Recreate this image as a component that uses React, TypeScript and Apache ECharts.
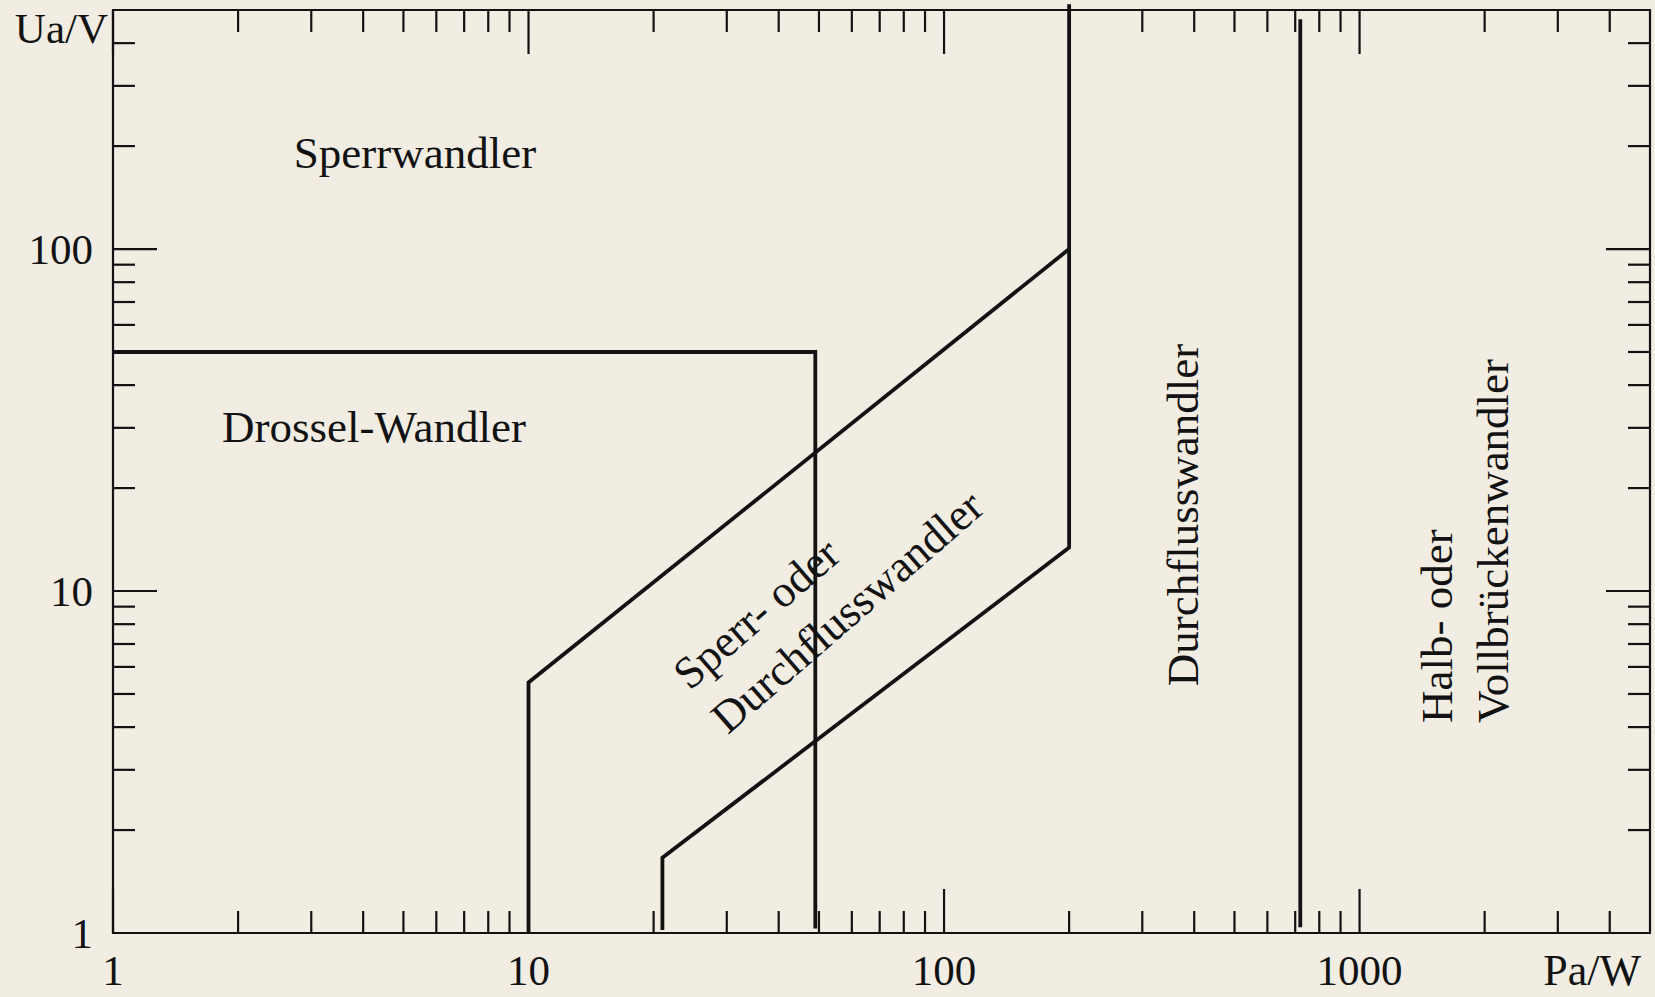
import React, { useEffect, useRef } from 'react';
import * as echarts from 'echarts';

// Axis ranges
const X_MIN = 1;
const X_MAX = 5000;
const Y_MIN = 1;
const Y_MAX = 500;

// Tick values (log axes, decades 1..10..100..1000)
const xTickValues = [1, 2, 3, 4, 5, 6, 7, 8, 9, 10, 20, 30, 40, 50, 60, 70, 80, 90, 100, 200, 300, 400, 500, 600, 700, 800, 900, 1000, 2000, 3000, 4000];
const yTickValues = [1, 2, 3, 4, 5, 6, 7, 8, 9, 10, 20, 30, 40, 50, 60, 70, 80, 90, 100, 200, 300, 400];
const xTickLabels = ['1', '10', '100', '1000'];
const yTickLabels = ['1', '10', '100'];

// Region boundaries [Pa/W, Ua/V]
const drosselBoundary = [[1, 50], [49, 50], [49, 1.03]];
const sperrUpperBoundary = [[10, 1], [10, 5.4], [200, 100], [200, 520]];
const durchflussLowerBoundary = [[21, 1.02], [21, 1.66], [200, 13.4], [200, 100]];
const bruckenBoundary = [[720, 1.04], [720, 470]];

// Region names
const regionNames = {
  sperr: 'Sperrwandler',
  drossel: 'Drossel-Wandler',
  mixed1: 'Sperr- oder',
  mixed2: 'Durchflusswandler',
  durchfluss: 'Durchflusswandler',
  bridge1: 'Halb- oder',
  bridge2: 'Vollbrückenwandler',
};
const xAxisName = 'Pa/W';
const yAxisName = 'Ua/V';

const INK = '#121212';
const BG = '#f1ede3';
const FONT = '"Liberation Serif", "Times New Roman", serif';

const isDecade = (v: number) => Math.abs(Math.log10(v) - Math.round(Math.log10(v))) < 1e-9;

export default function App() {
  const ref = useRef<HTMLDivElement>(null);

  useEffect(() => {
    if (!ref.current) return;
    const chart = echarts.init(ref.current, undefined, { renderer: 'svg' });

    const lineSeries = (data: number[][]) => ({
      type: 'line',
      data,
      xAxisIndex: 0,
      yAxisIndex: 0,
      showSymbol: false,
      symbol: 'none',
      silent: true,
      clip: false,
      lineStyle: { color: INK, width: 3.8, join: 'miter' },
      z: 3,
    });

    const labelStyle = {
      color: INK,
      fontFamily: FONT,
      fontSize: 43,
    };

    const option: any = {
      animation: false,
      backgroundColor: BG,
      grid: {
        left: 113,
        right: 5,
        top: 10,
        bottom: 64,
        containLabel: false,
        outerBoundsMode: 'none',
      },
      xAxis: [
        {
          type: 'log',
          logBase: 10,
          min: X_MIN,
          max: X_MAX,
          position: 'bottom',
          axisLine: { show: true, lineStyle: { color: INK, width: 2.2 } },
          axisTick: { show: false },
          splitLine: { show: false },
          minorTick: { show: false },
          axisLabel: {
            ...labelStyle,
            margin: 16,
            showMinLabel: true,
            showMaxLabel: true,
            formatter: (v: number) => (xTickLabels.includes(String(Math.round(v))) && isDecade(v) ? String(Math.round(v)) : ''),
          },
        },
        {
          type: 'log',
          logBase: 10,
          min: X_MIN,
          max: X_MAX,
          position: 'top',
          axisLine: { show: true, lineStyle: { color: INK, width: 2.2 } },
          axisTick: { show: false },
          axisLabel: { show: false },
          splitLine: { show: false },
        },
      ],
      yAxis: [
        {
          type: 'log',
          logBase: 10,
          min: Y_MIN,
          max: Y_MAX,
          position: 'left',
          axisLine: { show: true, lineStyle: { color: INK, width: 2.2 } },
          axisTick: { show: false },
          splitLine: { show: false },
          axisLabel: {
            ...labelStyle,
            margin: 20,
            showMinLabel: true,
            showMaxLabel: true,
            formatter: (v: number) => (yTickLabels.includes(String(Math.round(v))) && isDecade(v) ? String(Math.round(v)) : ''),
          },
        },
        {
          type: 'log',
          logBase: 10,
          min: Y_MIN,
          max: Y_MAX,
          position: 'right',
          axisLine: { show: true, lineStyle: { color: INK, width: 2.2 } },
          axisTick: { show: false },
          axisLabel: { show: false },
          splitLine: { show: false },
        },
      ],
      series: [
        lineSeries(drosselBoundary),
        lineSeries(sperrUpperBoundary),
        lineSeries(durchflussLowerBoundary),
        lineSeries(bruckenBoundary),
        {
          type: 'custom',
          xAxisIndex: 0,
          yAxisIndex: 0,
          silent: true,
          data: xTickValues.map((v) => [v, Y_MIN]),
          renderItem: (params: any, api: any) => {
            const v = api.value(0);
            const len = isDecade(v) ? 44 : 22;
            const pb = api.coord([v, Y_MIN]);
            const pt = api.coord([v, Y_MAX]);
            const style = { stroke: INK, lineWidth: 2.2 };
            return {
              type: 'group',
              children: [
                { type: 'line', shape: { x1: pb[0], y1: pb[1], x2: pb[0], y2: pb[1] - len }, style },
                { type: 'line', shape: { x1: pt[0], y1: pt[1], x2: pt[0], y2: pt[1] + len }, style },
              ],
            };
          },
          z: 2,
        },
        {
          type: 'custom',
          xAxisIndex: 0,
          yAxisIndex: 0,
          silent: true,
          data: yTickValues.map((v) => [X_MIN, v]),
          renderItem: (params: any, api: any) => {
            const v = api.value(1);
            const len = isDecade(v) ? 44 : 22;
            const pl = api.coord([X_MIN, v]);
            const pr = api.coord([X_MAX, v]);
            const style = { stroke: INK, lineWidth: 2.2 };
            return {
              type: 'group',
              children: [
                { type: 'line', shape: { x1: pl[0], y1: pl[1], x2: pl[0] + len, y2: pl[1] }, style },
                { type: 'line', shape: { x1: pr[0], y1: pr[1], x2: pr[0] - len, y2: pr[1] }, style },
              ],
            };
          },
          z: 2,
        },
      ],
      graphic: [
        {
          type: 'text', x: 108, y: 28,
          style: { text: yAxisName, fill: INK, font: `43px ${FONT}`, align: 'right', verticalAlign: 'middle' },
        },
        {
          type: 'text', x: 1641, y: 970,
          style: { text: xAxisName, fill: INK, font: `44px ${FONT}`, align: 'right', verticalAlign: 'middle' },
        },
        {
          type: 'text', x: 415, y: 153,
          style: { text: regionNames.sperr, fill: INK, font: `45px ${FONT}`, align: 'center', verticalAlign: 'middle' },
        },
        {
          type: 'text', x: 374, y: 427,
          style: { text: regionNames.drossel, fill: INK, font: `45px ${FONT}`, align: 'center', verticalAlign: 'middle' },
        },
        {
          type: 'text', x: 680, y: 680, rotation: (41 * Math.PI) / 180,
          style: { text: regionNames.mixed1, fill: INK, font: `45px ${FONT}`, align: 'left', verticalAlign: 'middle' },
        },
        {
          type: 'text', x: 718, y: 724, rotation: (41 * Math.PI) / 180,
          style: { text: regionNames.mixed2, fill: INK, font: `45px ${FONT}`, align: 'left', verticalAlign: 'middle' },
        },
        {
          type: 'text', x: 1183, y: 515, rotation: Math.PI / 2,
          style: { text: regionNames.durchfluss, fill: INK, font: `45px ${FONT}`, align: 'center', verticalAlign: 'middle' },
        },
        {
          type: 'text', x: 1437, y: 723, rotation: Math.PI / 2,
          style: { text: regionNames.bridge1, fill: INK, font: `45px ${FONT}`, align: 'left', verticalAlign: 'middle' },
        },
        {
          type: 'text', x: 1493, y: 723, rotation: Math.PI / 2,
          style: { text: regionNames.bridge2, fill: INK, font: `45px ${FONT}`, align: 'left', verticalAlign: 'middle' },
        },
      ],
    };

    chart.setOption(option);
    return () => chart.dispose();
  }, []);

  return (
    <div
      ref={ref}
      style={{ position: 'fixed', left: 0, top: 0, width: 1655, height: 997, background: BG }}
    />
  );
}
